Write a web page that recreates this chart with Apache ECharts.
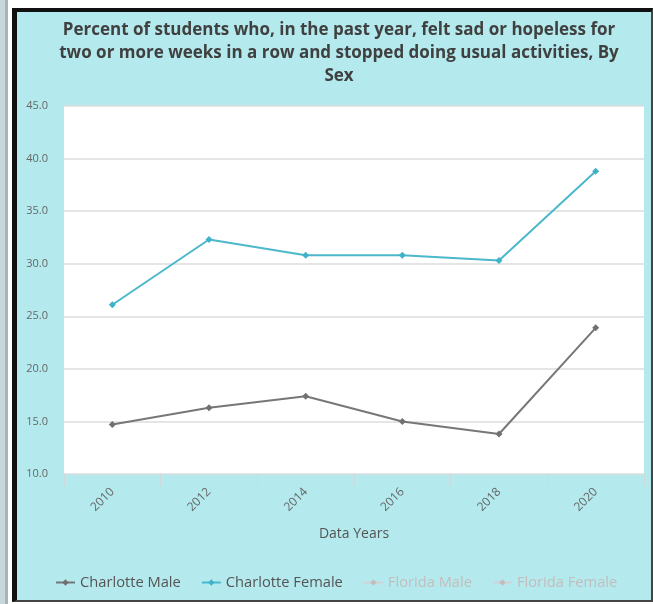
<!DOCTYPE html>
<html>
<head>
<meta charset="utf-8">
<script src="https://cdn.jsdelivr.net/npm/echarts@6/dist/echarts.min.js"></script>
<style>
  html, body { margin: 0; padding: 0; width: 653px; height: 604px; overflow: hidden; background: #fff; }
  #strip1 { position: absolute; left: 0; top: 0; width: 5px; height: 604px; background: #c9d6da; }
  #strip2 { position: absolute; left: 5px; top: 0; width: 3px; height: 604px; background: #a3b6bd; }
  #frame { position: absolute; left: 12px; top: 8px; width: 634px; height: 588px;
           background: #b4eaed; border-left: 5px solid #111; border-top: 4px solid #111;
           border-right: 2px solid #444; border-bottom: 2px solid #444; }
  #chart { position: absolute; left: 0; top: 0; width: 653px; height: 604px; }
</style>
</head>
<body>
<div id="strip1"></div>
<div id="strip2"></div>
<div id="frame"></div>
<div id="chart"></div>
<script>
var years = ['2010', '2012', '2014', '2016', '2018', '2020'];
var charlotteMale = [14.7, 16.3, 17.4, 15.0, 13.8, 23.9];
var charlotteFemale = [26.1, 32.3, 30.8, 30.8, 30.3, 38.8];
var floridaMale = [];
var floridaFemale = [];

var myChart = echarts.init(document.getElementById('chart'));
var font = "'Open Sans', 'Noto Sans', sans-serif";

myChart.setOption({
    backgroundColor: 'transparent',
    textStyle: { fontFamily: font },
    title: {
        text: 'Percent of students who, in the past year, felt sad or hopeless for\ntwo or more weeks in a row and stopped doing usual activities, By\nSex',
        left: 334,
        top: 14,
        textAlign: 'center',
        textStyle: { fontSize: 17, fontWeight: 'bold', color: '#404040', lineHeight: 23, fontFamily: font }
    },
    legend: {
        left: 50,
        top: 570,
        itemWidth: 19,
        itemHeight: 8,
        itemGap: 20,
        inactiveColor: '#c4bcbc',
        textStyle: { fontSize: 14.7, color: '#555', fontFamily: font },
        data: ['Charlotte Male', 'Charlotte Female', 'Florida Male', 'Florida Female'],
        selected: { 'Florida Male': false, 'Florida Female': false }
    },
    grid: {
        left: 64, right: 9, top: 106, bottom: 130,
        show: true, backgroundColor: '#fff', borderWidth: 0
    },
    xAxis: {
        type: 'category',
        data: years,
        boundaryGap: true,
        name: 'Data Years',
        nameLocation: 'middle',
        nameGap: 53,
        nameTextStyle: { fontSize: 14, color: '#555', fontFamily: font },
        axisLine: { show: false },
        axisTick: { show: true, length: 12, lineStyle: { color: '#cfd8d8' } },
        axisLabel: { rotate: 45, fontSize: 12, color: '#666', margin: 16, fontFamily: font }
    },
    yAxis: {
        type: 'value',
        min: 10,
        max: 45,
        interval: 5,
        axisLine: { show: false },
        axisTick: { show: false },
        axisLabel: {
            fontSize: 11, color: '#666', margin: 16, fontFamily: font,
            formatter: function (v) { return v.toFixed(1); }
        },
        splitLine: { lineStyle: { color: '#dcdcdc', width: 1.5 } }
    },
    series: [
        {
            name: 'Charlotte Male', type: 'line', data: charlotteMale,
            symbol: 'diamond', symbolSize: 7, showAllSymbol: true,
            itemStyle: { color: '#717171' }, lineStyle: { width: 2, color: '#777' }
        },
        {
            name: 'Charlotte Female', type: 'line', data: charlotteFemale,
            symbol: 'diamond', symbolSize: 7,
            itemStyle: { color: '#3fb3c7' }, lineStyle: { width: 2, color: '#4bb8cc' }
        },
        {
            name: 'Florida Male', type: 'line', data: floridaMale,
            symbol: 'diamond', symbolSize: 7, itemStyle: { color: '#a89a9a' }
        },
        {
            name: 'Florida Female', type: 'line', data: floridaFemale,
            symbol: 'diamond', symbolSize: 7, itemStyle: { color: '#a89a9a' }
        }
    ]
});
</script>
</body>
</html>
